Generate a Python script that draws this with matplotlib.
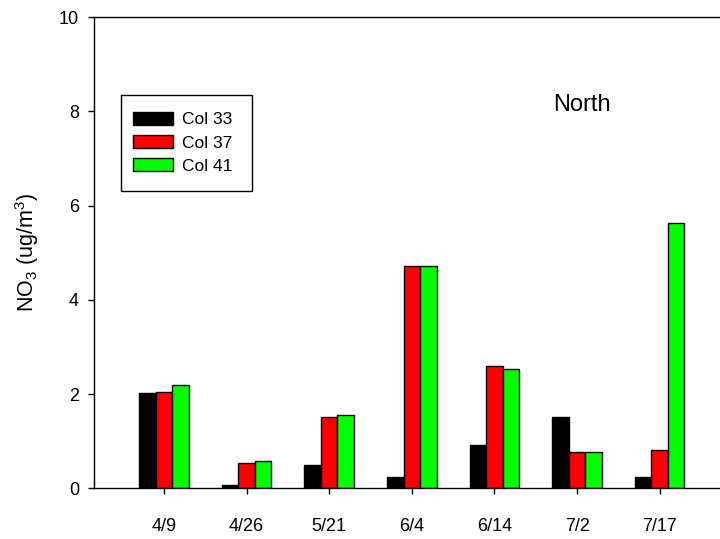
import matplotlib
matplotlib.use("Agg")
import matplotlib.pyplot as plt
import numpy as np
from matplotlib.patches import Rectangle, Patch

plt.rcParams['font.family'] = ['Liberation Sans', 'DejaVu Sans']
plt.rcParams['mathtext.fontset'] = 'custom'
plt.rcParams['mathtext.rm'] = 'Liberation Sans'
plt.rcParams['mathtext.it'] = 'Liberation Sans:italic'
plt.rcParams['mathtext.bf'] = 'Liberation Sans:bold'
plt.rcParams['mathtext.default'] = 'regular'

dates = ["4/9", "4/26", "5/21", "6/4", "6/14", "7/2", "7/17"]
col33 = [2.03, 0.08, 0.49, 0.24, 0.92, 1.52, 0.24]
col37 = [2.04, 0.54, 1.52, 4.71, 2.60, 0.76, 0.81]
col41 = [2.20, 0.57, 1.56, 4.72, 2.53, 0.76, 5.63]
series_names = ["Col 33", "Col 37", "Col 41"]
colors = ["#000000", "#ff0000", "#00ff00"]

fig = plt.figure(figsize=(7.2, 5.39), dpi=100)
ax = fig.add_axes([94/720, 1-488.3/539, 1-94/720, (488.3-17)/539])

x = np.arange(len(dates))
w = 0.2
for i, (vals, c) in enumerate(zip([col33, col37, col41], colors)):
    ax.bar(x + (i-1)*w, vals, width=w, color=c, edgecolor='black', linewidth=1.0, zorder=2)

ax.set_xlim(-0.847, 6.73)
ax.set_ylim(0, 10)
ax.set_yticks([0, 2, 4, 6, 8, 10])
ax.set_xticks(x)
ax.set_xticklabels(dates)
ax.spines['right'].set_visible(False)
for s in ['left', 'bottom', 'top']:
    ax.spines[s].set_linewidth(1.0)
ax.tick_params(axis='y', direction='out', length=6*0.72, width=1.0, pad=6.5, labelsize=13)
ax.tick_params(axis='x', direction='out', length=6*0.72, width=1.0, pad=17, labelsize=13)

ax.set_ylabel("NO$_3$ (ug/m$^3$)", fontsize=15.5)
ax.yaxis.set_label_coords((41-94)/626, (488.3-252)/471.3)

ax.text((553-94)/626, (488.3-105)/471.3, "North", transform=ax.transAxes,
        fontsize=17, ha='left', va='center')

# legend
handles = [Patch(facecolor=c, edgecolor='black', linewidth=1.0) for c in colors]
leg = ax.legend(handles, series_names, loc='upper left',
                bbox_to_anchor=((133-94)/626, (488.3-112)/471.3),
                frameon=False, fontsize=12.5, handlelength=2.3, handleheight=0.75,
                handletextpad=0.55, labelspacing=0.45, borderpad=0, borderaxespad=0)
ax.add_patch(Rectangle(((120.7-94)/626, (488.3-190.5)/471.3), 131/626, 95.5/471.3,
                       transform=ax.transAxes, fill=False, edgecolor='black',
                       linewidth=1.0, zorder=5, clip_on=False))

fig.savefig("out.png", dpi=100, facecolor='white')
